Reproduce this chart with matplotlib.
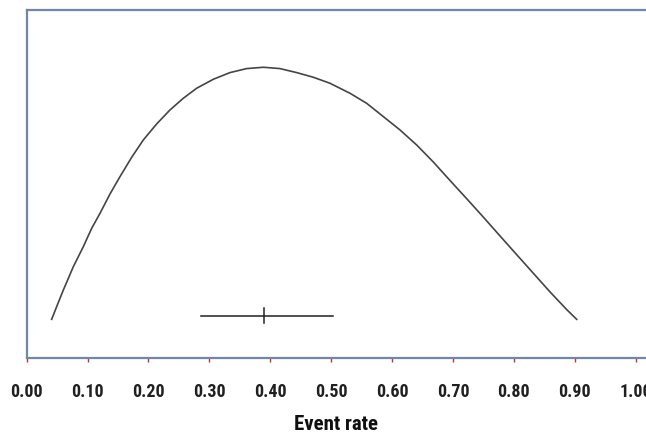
import matplotlib
matplotlib.use("Agg")
import matplotlib.pyplot as plt
from matplotlib import font_manager

# narrow bold face for the labels, if one is installed
narrow = None
for f in font_manager.fontManager.ttflist:
    nm = (f.name + ' ' + f.fname).lower()
    if ('narrow' in nm or 'condensed' in nm) and f.weight in (700, 'bold') and f.style == 'normal':
        if 'semi' in nm or 'extra' in nm:
            continue
        narrow = f.fname
        if 'liberation' in nm or 'arial' in nm:
            break

if narrow:
    tick_font = font_manager.FontProperties(fname=narrow, size=13)
    label_font = font_manager.FontProperties(fname=narrow, size=15)
else:
    tick_font = font_manager.FontProperties(family='Liberation Sans', weight='bold', size=11)
    label_font = font_manager.FontProperties(family='Liberation Sans', weight='bold', size=14)

# curve (y in arbitrary units, axis has no scale)
rate = [0.0410, 0.0492, 0.0602, 0.0766, 0.0930, 0.1067, 0.1204, 0.1368, 0.1532,
        0.1724, 0.1915, 0.2134, 0.2353, 0.2572, 0.2791, 0.3065, 0.3338, 0.3612,
        0.3886, 0.4159, 0.4433, 0.4707, 0.4980, 0.5309, 0.5582, 0.5856, 0.6130,
        0.6403, 0.6677, 0.6951, 0.7224, 0.7498, 0.7772, 0.8045, 0.8319, 0.8593,
        0.8866, 0.9031]
density = [0.1118, 0.1481, 0.1959, 0.2629, 0.3202, 0.3728, 0.4159, 0.4713, 0.5210,
           0.5765, 0.6262, 0.6721, 0.7123, 0.7458, 0.7745, 0.8003, 0.8194, 0.8309,
           0.8347, 0.8309, 0.8194, 0.8060, 0.7888, 0.7601, 0.7314, 0.6932, 0.6549,
           0.6119, 0.5630, 0.5100, 0.4580, 0.4050, 0.3510, 0.2975, 0.2440, 0.1905,
           0.1400, 0.1118]

# point estimate and interval
est = 0.389
ci_low, ci_high = 0.287, 0.503
ci_level = 0.122

ticks = [0.0, 0.1, 0.2, 0.3, 0.4, 0.5, 0.6, 0.7, 0.8, 0.9, 1.0]

fig = plt.figure(figsize=(6.46, 4.37), dpi=100)
ax = fig.add_axes([0.0413, 0.180, 0.9587, 0.798])

ax.plot(rate, density, color='#454545', linewidth=1.2)
ax.plot([ci_low, ci_high], [ci_level, ci_level], color='#202020', linewidth=1.1)
ax.plot([est, est], [ci_level - 0.0215, ci_level + 0.0215], color='#202020', linewidth=1.1)

ax.set_xlim(0.0, 1.0169)
ax.set_ylim(0.0, 1.0)
ax.set_xticks(ticks)
ax.set_xticklabels(['%.2f' % t for t in ticks], fontproperties=tick_font, color='#202020')
ax.set_yticks([])
ax.tick_params(axis='x', direction='out', length=3, width=1, color='#c03030', pad=15)

for side in ['left', 'top', 'bottom']:
    ax.spines[side].set_color('#7088a8')
    ax.spines[side].set_linewidth(1.6)
ax.spines['right'].set_visible(False)

ax.set_xlabel('Event rate', fontproperties=label_font, labelpad=10, color='#101010')

fig.savefig('out.png', dpi=100)
